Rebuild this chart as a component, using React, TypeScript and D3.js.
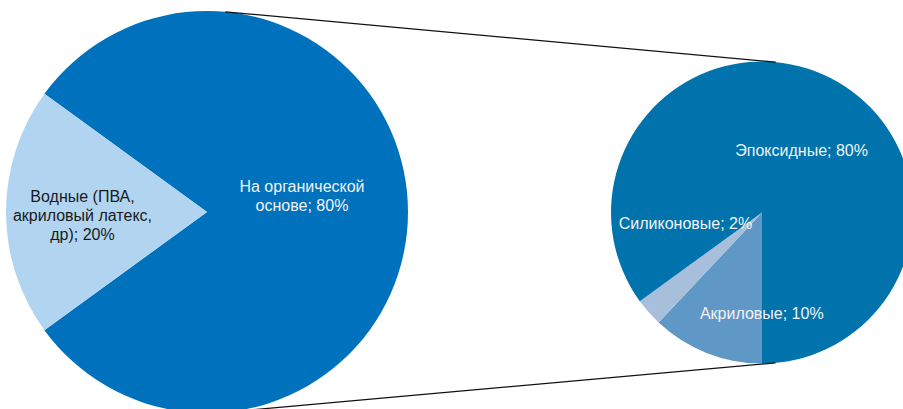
import React from "react";
import * as d3 from "d3";

// Primary pie
const mainCategories = ["На органической основе", "Водные (ПВА, акриловый латекс, др)"];
const mainValues = [80, 20];
const mainLabels = [["На органической", "основе; 80%"], ["Водные (ПВА,", "акриловый латекс,", "др); 20%"]];

// Secondary pie (breakdown)
const subCategories = ["Акриловые", "Силиконовые", "Эпоксидные"];
const subValues = [12, 3, 85];
const subLabels = [["Акриловые; 10%"], ["Силиконовые; 2%"], ["Эпоксидные; 80%"]];

const W = 903;
const H = 409;

const mainColors = ["#0071BC", "#B1D5F1"];
const mainText = ["#F2F2F2", "#1A1A1A"];
const subColors = ["#5F97C6", "#A7BFDB", "#0073AD"];
const subText = ["#F2F2F2", "#F2F2F2", "#F2F2F2"];

export default function App() {
  const c1 = { x: 207, y: 212, r: 201 };
  const c2 = { x: 762, y: 212.5, r: 151 };
  const deg = Math.PI / 180;

  const mainPie = d3
    .pie<number>()
    .sort(null)
    .startAngle(-54 * deg)
    .endAngle(-54 * deg + 2 * Math.PI)(mainValues);
  const subPie = d3
    .pie<number>()
    .sort(null)
    .startAngle(Math.PI)
    .endAngle(3 * Math.PI)(subValues);

  const arc1 = d3.arc<d3.PieArcDatum<number>>().innerRadius(0).outerRadius(c1.r);
  const arc2 = d3.arc<d3.PieArcDatum<number>>().innerRadius(0).outerRadius(c2.r);

  // label placement: centroid at radius, plus offsets
  const mainLabelR = [95, 124.5];
  const mainLabelOff = [[0, -16], [0, 3]];
  const subLabelR = [108, 100, 90.6];
  const subLabelOff = [[39.5, 0], [-1.5, -55], [-1.5, 19]];

  const lineH = 19;

  // external tangent lines between circles
  const dx = c2.x - c1.x;
  const dy = c2.y - c1.y;
  const d = Math.hypot(dx, dy);
  const base = Math.atan2(dy, dx);
  const t = Math.acos((c1.r - c2.r) / d);
  const tangents = [base - t, base + t].map((a) => ({
    x1: c1.x + c1.r * Math.cos(a),
    y1: c1.y + c1.r * Math.sin(a),
    x2: c2.x + c2.r * Math.cos(a),
    y2: c2.y + c2.r * Math.sin(a),
  }));

  const renderLabel = (
    lines: string[],
    cx: number,
    cy: number,
    color: string,
    key: string
  ) => {
    const n = lines.length;
    return (
      <text
        key={key}
        x={cx}
        y={cy}
        textAnchor="middle"
        fill={color}
        fontSize={16}
        fontFamily="'Liberation Sans', Arial, sans-serif"
      >
        {lines.map((l, i) => (
          <tspan key={i} x={cx} y={cy + (i - (n - 1) / 2) * lineH} dy="0.35em">
            {l}
          </tspan>
        ))}
      </text>
    );
  };

  return (
    <svg
      width={W}
      height={H}
      style={{ position: "absolute", left: 0, top: 0, background: "#fff" }}
    >
      <g transform={`translate(${c1.x},${c1.y})`}>
        {mainPie.map((p, i) => (
          <path key={mainCategories[i]} d={arc1(p) || ""} fill={mainColors[i]} />
        ))}
      </g>
      <g transform={`translate(${c2.x},${c2.y})`}>
        {subPie.map((p, i) => (
          <path key={subCategories[i]} d={arc2(p) || ""} fill={subColors[i]} />
        ))}
      </g>
      {tangents.map((l, i) => (
        <line key={i} x1={l.x1} y1={l.y1} x2={l.x2} y2={l.y2} stroke="#111" strokeWidth={1.3} />
      ))}
      {mainPie.map((p, i) => {
        const a = (p.startAngle + p.endAngle) / 2;
        const x = c1.x + mainLabelR[i] * Math.sin(a) + mainLabelOff[i][0];
        const y = c1.y - mainLabelR[i] * Math.cos(a) + mainLabelOff[i][1];
        return renderLabel(mainLabels[i], x, y, mainText[i], "m" + i);
      })}
      {subPie.map((p, i) => {
        const a = (p.startAngle + p.endAngle) / 2;
        const x = c2.x + subLabelR[i] * Math.sin(a) + subLabelOff[i][0];
        const y = c2.y - subLabelR[i] * Math.cos(a) + subLabelOff[i][1];
        return renderLabel(subLabels[i], x, y, subText[i], "s" + i);
      })}
    </svg>
  );
}
